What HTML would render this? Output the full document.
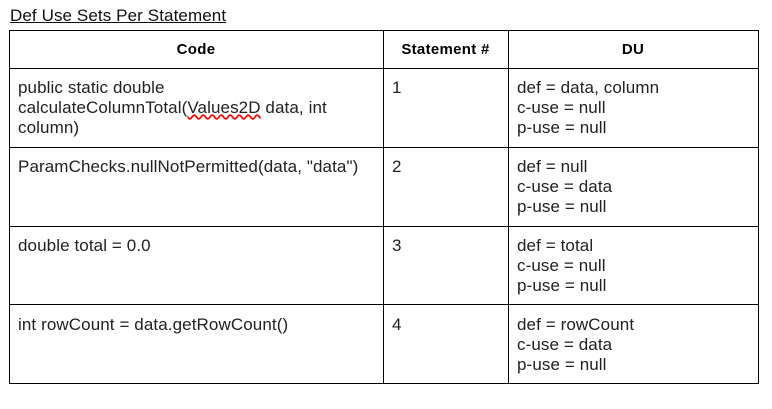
<!DOCTYPE html>
<html><head><style>
body{margin:0;width:772px;height:409px;background:#fff;font-family:"Liberation Sans",Arial,sans-serif;color:#222;position:relative;overflow:hidden}
.t{position:absolute;font-size:17px;line-height:20px;white-space:nowrap;letter-spacing:0.1px}
.h{position:absolute;background:#000}
.b{font-weight:bold;color:#000;font-size:15px;letter-spacing:0.3px}
</style></head><body>
<div class="t" style="left:10px;top:6px;text-decoration:underline;color:#111">Def Use Sets Per Statement</div>
<div class="h" style="left:9px;top:30px;width:750px;height:1px"></div>
<div class="h" style="left:9px;top:68px;width:750px;height:1px"></div>
<div class="h" style="left:9px;top:147px;width:750px;height:1px"></div>
<div class="h" style="left:9px;top:226px;width:750px;height:1px"></div>
<div class="h" style="left:9px;top:304px;width:750px;height:1px"></div>
<div class="h" style="left:9px;top:383px;width:750px;height:1px"></div>
<div class="h" style="left:9px;top:30px;width:1px;height:354px"></div>
<div class="h" style="left:383px;top:30px;width:1px;height:354px"></div>
<div class="h" style="left:508px;top:30px;width:1px;height:354px"></div>
<div class="h" style="left:758px;top:30px;width:1px;height:354px"></div>
<div class="t b" style="left:9px;width:374px;text-align:center;top:40px">Code</div>
<div class="t b" style="left:383px;width:125px;text-align:center;top:40px">Statement #</div>
<div class="t b" style="left:508px;width:250px;text-align:center;top:40px">DU</div>
<div class="t" style="left:18px;top:78px">public static double<br>calculateColumnTotal(<span style="text-decoration:underline wavy red">Values2D</span> data, int<br>column)</div>
<div class="t" style="left:392px;top:78px">1</div>
<div class="t" style="left:517px;top:78px">def = data, column<br>c-use = null<br>p-use = null</div>
<div class="t" style="left:18px;top:157px">ParamChecks.nullNotPermitted(data, "data")</div>
<div class="t" style="left:392px;top:157px">2</div>
<div class="t" style="left:517px;top:157px">def = null<br>c-use = data<br>p-use = null</div>
<div class="t" style="left:18px;top:236px">double total = 0.0</div>
<div class="t" style="left:392px;top:236px">3</div>
<div class="t" style="left:517px;top:236px">def = total<br>c-use = null<br>p-use = null</div>
<div class="t" style="left:18px;top:315px">int rowCount = data.getRowCount()</div>
<div class="t" style="left:392px;top:315px">4</div>
<div class="t" style="left:517px;top:315px">def = rowCount<br>c-use = data<br>p-use = null</div>
</body></html>
